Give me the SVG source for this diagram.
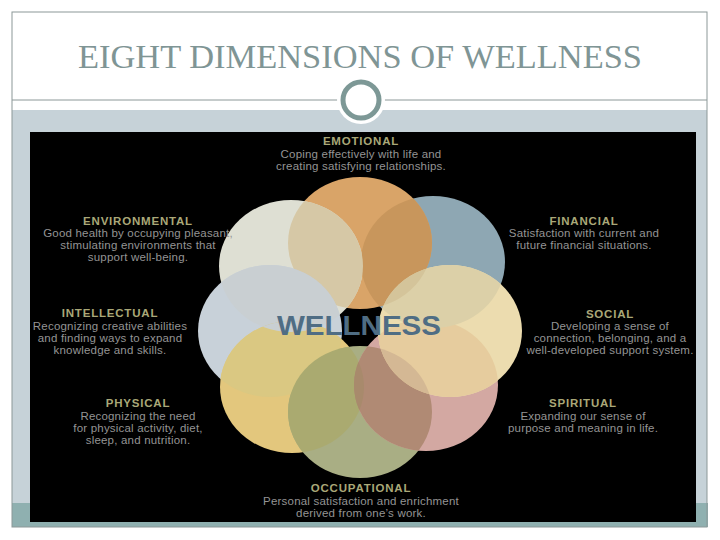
<svg xmlns="http://www.w3.org/2000/svg" xmlns:xlink="http://www.w3.org/1999/xlink" width="720" height="540" viewBox="0 0 720 540">
<style>
.hd{font-family:"Liberation Sans",Arial,sans-serif;font-weight:bold;font-size:11.5px;letter-spacing:0.8px;fill:#aaa878;text-anchor:middle}
.ds{font-family:"Liberation Sans",Arial,sans-serif;font-size:11.5px;letter-spacing:0.2px;fill:#949494;text-anchor:middle}
.title{font-family:"Liberation Serif","Times New Roman",serif;font-size:34px;fill:#7f9595;text-anchor:middle}
</style>
<defs>
<ellipse id="e-financial" cx="433" cy="262" rx="72" ry="66"/>
<ellipse id="e-emotional" cx="360" cy="243" rx="72" ry="66"/>
<ellipse id="e-environmental" cx="291" cy="266" rx="72" ry="66"/>
<ellipse id="e-intellectual" cx="270" cy="331" rx="72" ry="66"/>
<ellipse id="e-physical" cx="292" cy="387" rx="72" ry="66"/>
<ellipse id="e-occupational" cx="360" cy="412" rx="72" ry="66"/>
<ellipse id="e-spiritual" cx="426" cy="385" rx="72" ry="66"/>
<ellipse id="e-social" cx="450" cy="331" rx="72" ry="66"/>
<clipPath id="cp-emotional"><use xlink:href="#e-emotional"/></clipPath>
<clipPath id="cp-environmental"><use xlink:href="#e-environmental"/></clipPath>
<clipPath id="cp-intellectual"><use xlink:href="#e-intellectual"/></clipPath>
<clipPath id="cp-physical"><use xlink:href="#e-physical"/></clipPath>
<clipPath id="cp-occupational"><use xlink:href="#e-occupational"/></clipPath>
<clipPath id="cp-spiritual"><use xlink:href="#e-spiritual"/></clipPath>
<clipPath id="cp-social"><use xlink:href="#e-social"/></clipPath>
</defs>
<rect x="0" y="0" width="720" height="540" fill="#ffffff"/>
<g id="slide-frame">
<rect x="12" y="110" width="695" height="393" fill="#c6d2d8"/>
<rect x="12" y="503" width="696" height="24" fill="#8fb0b0"/>
<rect x="12" y="12" width="695" height="515" fill="none" stroke="#8c9898" stroke-width="1"/>
<line x1="12" y1="100" x2="707" y2="100" stroke="#8c9898" stroke-width="1"/>
<text class="title" x="360" y="68" textLength="564" lengthAdjust="spacingAndGlyphs">EIGHT DIMENSIONS OF WELLNESS</text>
<circle cx="361" cy="100" r="24" fill="#ffffff"/>
<circle cx="361" cy="100" r="18" fill="#ffffff" stroke="#7d9896" stroke-width="5"/>
</g>
<rect id="panel" x="30" y="132" width="666" height="390" fill="#000000"/>
<g id="financial">
<use xlink:href="#e-financial" fill="#8ea7b3"/>
<text class="hd" x="584" y="225">FINANCIAL</text>
<text class="ds" x="584" y="237">Satisfaction with current and</text>
<text class="ds" x="584" y="249">future financial situations.</text>
</g>
<g id="emotional">
<use xlink:href="#e-emotional" fill="#d9a468"/>
<text class="hd" x="361" y="145">EMOTIONAL</text>
<text class="ds" x="361" y="158">Coping effectively with life and</text>
<text class="ds" x="361" y="170">creating satisfying relationships.</text>
</g>
<g id="environmental">
<use xlink:href="#e-environmental" fill="#dedfd3"/>
<text class="hd" x="138" y="225">ENVIRONMENTAL</text>
<text class="ds" x="138" y="237">Good health by occupying pleasant,</text>
<text class="ds" x="138" y="249">stimulating environments that</text>
<text class="ds" x="138" y="261">support well-being.</text>
</g>
<g id="intellectual">
<use xlink:href="#e-intellectual" fill="#c8d1d9"/>
<text class="hd" x="110" y="317">INTELLECTUAL</text>
<text class="ds" x="110" y="330">Recognizing creative abilities</text>
<text class="ds" x="110" y="342">and finding ways to expand</text>
<text class="ds" x="110" y="354">knowledge and skills.</text>
</g>
<g id="physical">
<use xlink:href="#e-physical" fill="#e3c77d"/>
<text class="hd" x="138" y="407">PHYSICAL</text>
<text class="ds" x="138" y="420">Recognizing the need</text>
<text class="ds" x="138" y="432">for physical activity, diet,</text>
<text class="ds" x="138" y="444">sleep, and nutrition.</text>
</g>
<g id="occupational">
<use xlink:href="#e-occupational" fill="#a9ae84"/>
<text class="hd" x="361" y="492">OCCUPATIONAL</text>
<text class="ds" x="361" y="505">Personal satisfaction and enrichment</text>
<text class="ds" x="361" y="517">derived from one’s work.</text>
</g>
<g id="spiritual">
<use xlink:href="#e-spiritual" fill="#d3a8a2"/>
<text class="hd" x="583" y="407">SPIRITUAL</text>
<text class="ds" x="583" y="420">Expanding our sense of</text>
<text class="ds" x="583" y="432">purpose and meaning in life.</text>
</g>
<g id="social">
<use xlink:href="#e-social" fill="#ecdcaf"/>
<text class="hd" x="610" y="318">SOCIAL</text>
<text class="ds" x="610" y="330">Developing a sense of</text>
<text class="ds" x="610" y="342">connection, belonging, and a</text>
<text class="ds" x="610" y="354">well-developed support system.</text>
</g>
<g id="overlaps">
<use xlink:href="#e-financial" clip-path="url(#cp-emotional)" fill="#c8965c"/>
<use xlink:href="#e-emotional" clip-path="url(#cp-environmental)" fill="#d6c8a6"/>
<use xlink:href="#e-emotional" clip-path="url(#cp-intellectual)" fill="#cbcbc2"/>
<use xlink:href="#e-environmental" clip-path="url(#cp-intellectual)" fill="#c9cfd2"/>
<use xlink:href="#e-intellectual" clip-path="url(#cp-physical)" fill="#dac882"/>
<use xlink:href="#e-environmental" clip-path="url(#cp-physical)" fill="#c9cfd2"/>
<use xlink:href="#e-physical" clip-path="url(#cp-occupational)" fill="#aaaa70"/>
<use xlink:href="#e-occupational" clip-path="url(#cp-spiritual)" fill="#b08a74"/>
<use xlink:href="#e-physical" clip-path="url(#cp-spiritual)" fill="#a88a6c"/>
<use xlink:href="#e-spiritual" clip-path="url(#cp-social)" fill="#e6cc9e"/>
<use xlink:href="#e-occupational" clip-path="url(#cp-social)" fill="#d4b894"/>
<use xlink:href="#e-financial" clip-path="url(#cp-social)" fill="#dcd0a8"/>
<use xlink:href="#e-emotional" clip-path="url(#cp-social)" fill="#d4c49a"/>
</g>
<g id="wellness">
<text x="359" y="335" font-family="'Liberation Sans',Arial,sans-serif" font-weight="bold" font-size="28" fill="#4f6d84" text-anchor="middle" textLength="164" lengthAdjust="spacingAndGlyphs">WELLNESS</text>
</g>
</svg>
